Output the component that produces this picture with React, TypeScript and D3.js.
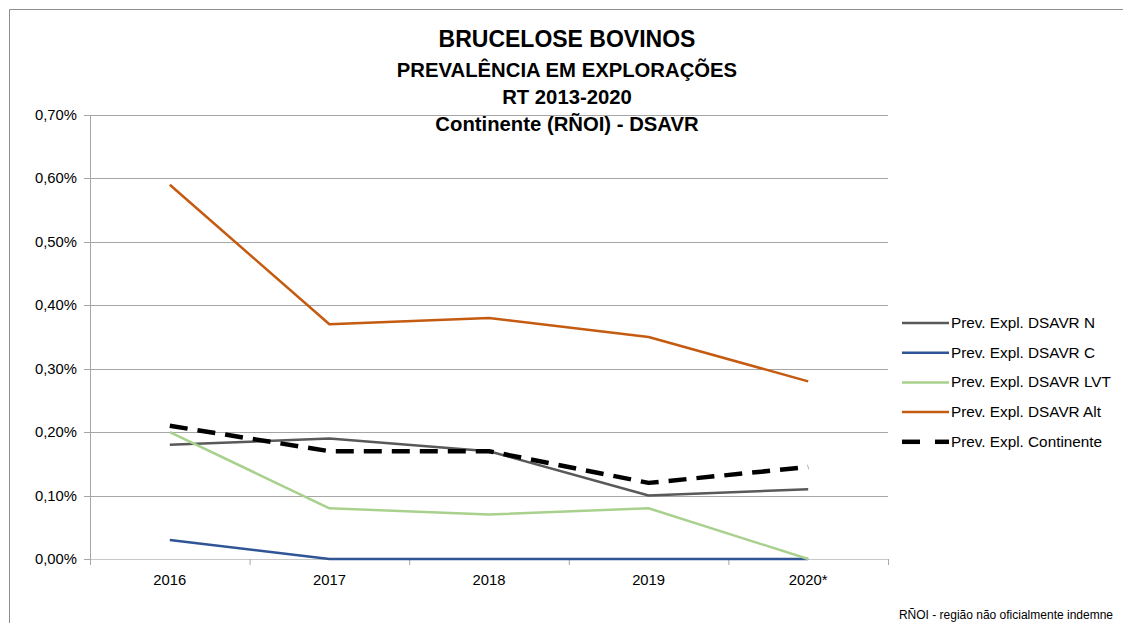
import React from "react";
import * as d3 from "d3";

const categories = ["2016", "2017", "2018", "2019", "2020*"];
const seriesNames = [
  "Prev. Expl. DSAVR N",
  "Prev. Expl. DSAVR C",
  "Prev. Expl. DSAVR LVT",
  "Prev. Expl. DSAVR Alt",
  "Prev. Expl. Continente",
];
const valuesN = [0.18, 0.19, 0.17, 0.1, 0.11];
const valuesC = [0.03, 0, 0, 0, 0];
const valuesLVT = [0.2, 0.08, 0.07, 0.08, 0.0];
const valuesAlt = [0.59, 0.37, 0.38, 0.35, 0.28];
const valuesCont = [0.21, 0.17, 0.17, 0.12, 0.145];
const yTicks = [0, 0.1, 0.2, 0.3, 0.4, 0.5, 0.6, 0.7];
const titleLines = [
  "BRUCELOSE BOVINOS",
  "PREVALÊNCIA EM EXPLORAÇÕES",
  "RT 2013-2020",
  "Continente (RÑOI) - DSAVR",
];
const footnote = "RÑOI - região não oficialmente indemne";

const colors = ["#595959", "#2f5597", "#a9d18e", "#c55a11", "#000000"];

export default function App() {
  const W = 1123, H = 623;
  const left = 90, right = 888, top = 115, bottom = 559;
  const font = "'Liberation Sans', Arial, sans-serif";

  const x = d3.scaleBand<string>().domain(categories).range([left, right]);
  const y = d3.scaleLinear().domain([0, 0.7]).range([bottom, top]);
  const cx = (c: string) => (x(c) as number) + x.bandwidth() / 2;

  const line = d3
    .line<number>()
    .x((_, i) => cx(categories[i]))
    .y((d) => y(d));

  const series = [valuesN, valuesC, valuesLVT, valuesAlt, valuesCont];
  const fmt = (v: number) => v.toFixed(2).replace(".", ",") + "%";

  const legendY0 = 323, legendDy = 29.7;

  return (
    <svg
      width={W}
      height={H}
      style={{ position: "absolute", left: 0, top: 0, background: "#fff" }}
      fontFamily={font}
    >
      <rect x={0} y={0} width={W} height={H} fill="#fff" />
      <path d={`M9.5,${H} V9.5 H${W}`} fill="none" stroke="#8c8c8c" strokeWidth={1} />

      {/* gridlines */}
      {yTicks.slice(1).map((t) => (
        <line key={t} x1={left} x2={right} y1={Math.round(y(t)) + 0.5} y2={Math.round(y(t)) + 0.5} stroke="#a6a6a6" strokeWidth={1} />
      ))}
      {/* y axis */}
      <line x1={left + 0.5} x2={left + 0.5} y1={top} y2={bottom} stroke="#a6a6a6" />
      {yTicks.map((t) => (
        <g key={"yt" + t}>
          <line x1={left - 6} x2={left} y1={Math.round(y(t)) + 0.5} y2={Math.round(y(t)) + 0.5} stroke="#a6a6a6" />
          <text x={77} y={y(t) + 5} textAnchor="end" fontSize={14.8} fill="#000">
            {fmt(t)}
          </text>
        </g>
      ))}
      {/* x axis */}
      <line x1={left} x2={right + 1} y1={Math.round(y(0)) + 0.5} y2={Math.round(y(0)) + 0.5} stroke="#c8c8c8" />
      {categories.map((c) => (
        <line key={"xt" + c} x1={(x(c) as number) + 0.5} x2={(x(c) as number) + 0.5} y1={bottom} y2={bottom + 6} stroke="#a6a6a6" />
      ))}
      <line x1={right + 0.5} x2={right + 0.5} y1={bottom} y2={bottom + 6} stroke="#a6a6a6" />
      {categories.map((c) => (
        <text key={"xl" + c} x={cx(c)} y={585} textAnchor="middle" fontSize={14.8} fill="#000">
          {c}
        </text>
      ))}

      {/* series */}
      {series.map((s, i) => (
        <path
          key={seriesNames[i]}
          d={line(s) as string}
          fill="none"
          stroke={colors[i]}
          strokeWidth={i === 4 ? 4.5 : 2.5}
          strokeDasharray={i === 4 ? "18,10" : undefined}
          strokeLinejoin="round"
        />
      ))}

      {/* title */}
      {titleLines.map((t, i) => (
        <text
          key={t}
          x={567}
          y={[47, 77, 104, 131][i]}
          textAnchor="middle"
          fontSize={i === 0 ? 23 : 20.3}
          fontWeight="bold"
          fill="#000"
        >
          {t}
        </text>
      ))}

      {/* legend */}
      {seriesNames.map((n, i) => {
        const ly = legendY0 + i * legendDy;
        return (
          <g key={"lg" + n}>
            {i === 4 ? (
              <g>
                <line x1={902} x2={920} y1={ly} y2={ly} stroke="#000" strokeWidth={4.5} />
                <line x1={935} x2={949} y1={ly} y2={ly} stroke="#000" strokeWidth={4.5} />
              </g>
            ) : (
              <line x1={902} x2={949} y1={ly} y2={ly} stroke={colors[i]} strokeWidth={2.5} />
            )}
            <text x={951} y={ly + 5} fontSize={15.3} fill="#000">
              {n}
            </text>
          </g>
        );
      })}

      <text x={1113} y={619} textAnchor="end" fontSize={12} fill="#000">
        {footnote}
      </text>
    </svg>
  );
}
